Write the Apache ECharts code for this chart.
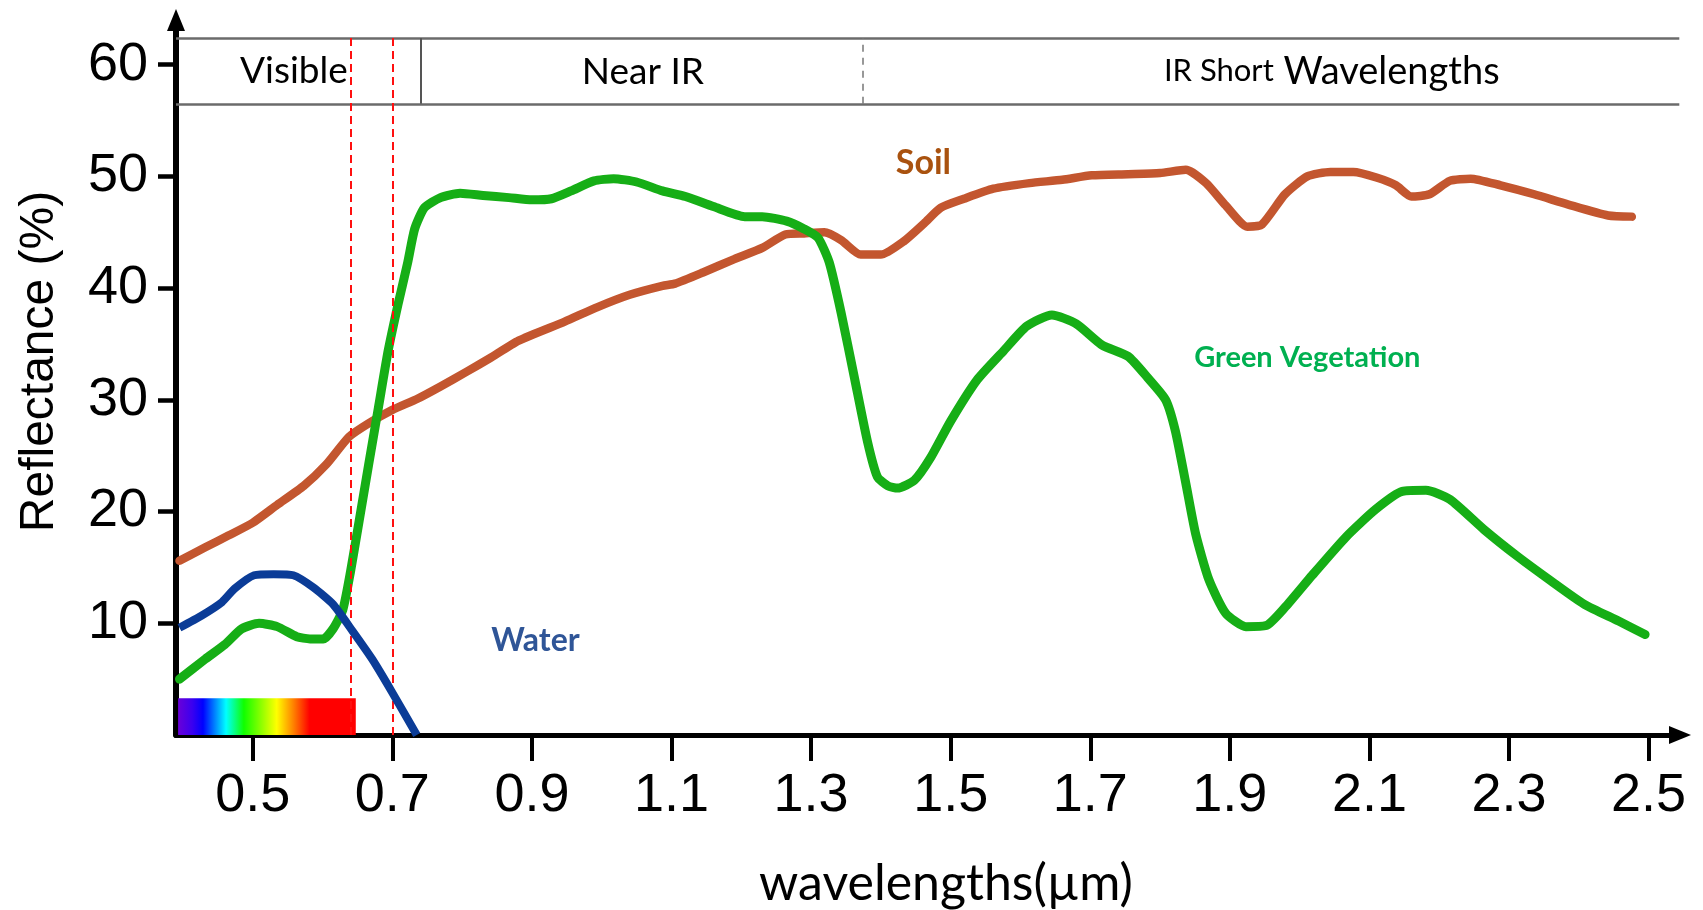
<!DOCTYPE html>
<html>
<head>
<meta charset="utf-8">
<script src="https://cdn.jsdelivr.net/npm/echarts@6/dist/echarts.min.js"></script>
<style>
html,body{margin:0;padding:0;background:#fff;}
#c{width:1703px;height:910px;}
</style>
</head>
<body>
<div id="c"></div>
<script>
// ---- data ----
const xTicks = [0.5, 0.7, 0.9, 1.1, 1.3, 1.5, 1.7, 1.9, 2.1, 2.3, 2.5];
const yTicks = [10, 20, 30, 40, 50, 60];

const soilWl = [0.395,0.432,0.465,0.5,0.535,0.573,0.605,0.638,0.666,0.7,0.736,0.769,0.806,0.839,0.881,0.947,0.994,1.04,1.087,1.105,1.145,1.19,1.23,1.263,1.29,1.319,1.343,1.371,1.40,1.433,1.462,1.486,1.519,1.561,1.613,1.66,1.702,1.754,1.80,1.837,1.866,1.894,1.925,1.946,1.979,2.011,2.044,2.077,2.11,2.138,2.16,2.186,2.215,2.245,2.288,2.336,2.384,2.442,2.476];
const soilVal = [15.6,16.8,17.85,19.0,20.6,22.3,24.2,26.7,27.9,29.1,30.1,31.2,32.5,33.7,35.3,37.0,38.3,39.4,40.2,40.4,41.4,42.6,43.6,44.8,44.9,45.0,44.3,43.0,43.0,44.2,45.8,47.2,48.0,48.9,49.4,49.7,50.1,50.2,50.3,50.6,49.4,47.4,45.5,45.7,48.4,50.0,50.4,50.4,49.9,49.2,48.2,48.4,49.6,49.8,49.2,48.4,47.5,46.5,46.4];

const vegWl = [0.395,0.432,0.46,0.484,0.509,0.535,0.563,0.582,0.601,0.615,0.629,0.64,0.652,0.666,0.68,0.694,0.708,0.722,0.732,0.746,0.769,0.797,0.83,0.867,0.9,0.928,0.956,0.989,1.017,1.05,1.087,1.12,1.16,1.205,1.23,1.265,1.29,1.31,1.326,1.343,1.362,1.381,1.395,1.41,1.424,1.448,1.471,1.5,1.538,1.576,1.609,1.645,1.68,1.717,1.754,1.782,1.808,1.822,1.837,1.851,1.87,1.894,1.923,1.952,1.98,2.018,2.066,2.109,2.147,2.181,2.215,2.264,2.312,2.36,2.408,2.457,2.495];
const vegVal = [5.0,6.8,8.1,9.5,10.0,9.7,8.8,8.6,8.6,9.5,11.2,14.6,19.0,24.2,29.3,34.4,38.5,42.3,45.3,47.2,48.1,48.5,48.3,48.1,47.9,48.0,48.7,49.6,49.8,49.5,48.7,48.2,47.3,46.4,46.4,46.0,45.3,44.5,42.3,37.8,32.0,26.2,23.1,22.3,22.1,22.8,24.8,28.1,31.8,34.4,36.6,37.6,36.8,34.9,33.9,32.0,30.0,27.2,22.5,18.0,13.9,10.9,9.7,9.8,11.5,14.3,17.7,20.2,21.8,21.9,21.1,18.4,16.0,13.8,11.7,10.2,9.0];

const waterWl = [0.395,0.427,0.456,0.474,0.502,0.53,0.558,0.587,0.615,0.643,0.671,0.699,0.735];
const waterVal = [9.6,10.7,11.9,13.1,14.3,14.4,14.3,13.2,11.7,9.3,6.8,3.9,0];

const regionNames = ['Visible', 'Near IR', 'IR Short Wavelengths'];
const regionEdges = [0.39, 0.741, 1.374, 2.544];   // wavelength limits of the header cells
const visibleLimits = [0.64, 0.70];                // red dashed lines
const headerRange = [56.5, 62.4];                  // header band (reflectance units)
const spectrumRange = [0.393, 0.6476, 3.3];        // rainbow bar: x0, x1, height
const seriesNames = ['Soil', 'Green Vegetation', 'Water'];

// ---- styles ----
const tickFont = '"Liberation Sans Narrow","Liberation Sans",Arial,sans-serif';
const calibriLike = 'Lato, "Open Sans", sans-serif';
const colors = { soil: '#C3562F', veg: '#16AE16', water: '#0B3C97' };

const pairs = (xs, ys) => xs.map((x, i) => [x, ys[i]]);

const chart = echarts.init(document.getElementById('c'), null, { renderer: 'canvas', width: 1703, height: 910 });

const bandLine = { color: '#6b6b6b', width: 2.5, type: 'solid' };
const bandLines = [
  [{ coord: [regionEdges[0], headerRange[1]], lineStyle: bandLine }, { coord: [regionEdges[3], headerRange[1]] }],
  [{ coord: [regionEdges[0], headerRange[0]], lineStyle: bandLine }, { coord: [regionEdges[3], headerRange[0]] }],
  [{ coord: [regionEdges[1], headerRange[0]], lineStyle: { color: '#555', width: 2, type: 'solid' } }, { coord: [regionEdges[1], headerRange[1]] }],
  [{ coord: [regionEdges[2], headerRange[0]], lineStyle: { color: '#777', width: 1.5, type: [7, 6] } }, { coord: [regionEdges[2], headerRange[1]] }]
];
const redLines = visibleLimits.map(v => [
  { coord: [v, headerRange[1]], lineStyle: { color: '#ff1010', width: 2, type: [8, 5] } },
  { coord: [v, 0] }
]);

const option = {
  animation: false,
  backgroundColor: '#fff',
  grid: { left: 176, right: 23, top: 20, bottom: 175, containLabel: false, outerBoundsMode: 'none' },
  xAxis: {
    type: 'value', min: 0.39, max: 2.545,
    name: 'wavelengths(µm)', nameLocation: 'middle', nameGap: 124,
    nameTextStyle: { fontFamily: calibriLike, fontSize: 50, color: '#000', padding: [0, 0, 0, 36] },
    axisLine: { show: true, onZero: false, symbol: ['none', 'triangle'], symbolSize: [18, 22], lineStyle: { color: '#000', width: 5 } },
    axisTick: { show: true, customValues: xTicks, length: 26, lineStyle: { color: '#000', width: 4 } },
    axisLabel: { customValues: xTicks, formatter: v => v.toFixed(1), margin: 34, fontFamily: tickFont, fontSize: 54, color: '#000' },
    splitLine: { show: false }
  },
  yAxis: {
    type: 'value', min: 0, max: 64,
    name: 'Reflectance (%)', nameLocation: 'middle', nameGap: 112, nameRotate: 90,
    nameTextStyle: { fontFamily: '"Liberation Sans", Arial, sans-serif', fontSize: 48, color: '#000', padding: [0, 0, 0, 32] },
    axisLine: { show: true, onZero: false, symbol: ['none', 'triangle'], symbolSize: [18, 22], lineStyle: { color: '#000', width: 6 } },
    axisTick: { show: true, customValues: yTicks, length: 18, lineStyle: { color: '#000', width: 4.5 } },
    axisLabel: { customValues: yTicks, margin: 28, fontFamily: tickFont, fontSize: 54, color: '#000' },
    splitLine: { show: false }
  },
  series: [
    {
      name: 'header', type: 'line', data: [], silent: true, z: 1,
      markLine: { silent: true, symbol: ['none', 'none'], label: { show: false }, data: bandLines },
      markArea: {
        silent: true,
        data: [[
          { coord: [spectrumRange[0], 0], itemStyle: { color: { type: 'linear', x: 0, y: 0, x2: 1, y2: 0, colorStops: [
            { offset: 0, color: '#6a00d8' }, { offset: 0.08, color: '#3a00f0' }, { offset: 0.14, color: '#0000ff' },
            { offset: 0.27, color: '#00ffff' }, { offset: 0.37, color: '#10ff00' }, { offset: 0.47, color: '#90ff00' },
            { offset: 0.555, color: '#ffff00' }, { offset: 0.65, color: '#ff8000' }, { offset: 0.74, color: '#ff0000' },
            { offset: 1, color: '#ff0000' } ] } } },
          { coord: [spectrumRange[1], spectrumRange[2]] }
        ]]
      }
    },
    {
      name: seriesNames[0], type: 'line', data: pairs(soilWl, soilVal), showSymbol: false, smooth: 0.2, z: 3,
      lineStyle: { color: colors.soil, width: 8.5, cap: 'round', join: 'round' }
    },
    {
      name: seriesNames[1], type: 'line', data: pairs(vegWl, vegVal), showSymbol: false, smooth: 0.2, z: 4,
      lineStyle: { color: colors.veg, width: 9, cap: 'round', join: 'round' }
    },
    {
      name: seriesNames[2], type: 'line', data: pairs(waterWl, waterVal), showSymbol: false, smooth: 0.2, z: 5,
      lineStyle: { color: colors.water, width: 8, cap: 'butt', join: 'round' }
    },
    {
      name: 'limits', type: 'line', data: [], silent: true, z: 6,
      markLine: { silent: true, symbol: ['none', 'none'], label: { show: false }, data: redLines }
    }
  ]
};
chart.setOption(option);

// ---- text annotations placed in data coordinates ----
const annotations = [
  { text: regionNames[0], at: [0.559, 59.4], font: '37px ' + calibriLike, fill: '#000' },
  { text: regionNames[1], at: [1.059, 59.3], font: '37px ' + calibriLike, fill: '#000' },
  { rich: true, at: [2.046, 59.4], fill: '#000' },
  { text: seriesNames[0], at: [1.461, 51.2], font: 'bold 34px ' + calibriLike, fill: '#A9520F' },
  { text: seriesNames[1], at: [2.011, 33.75], font: 'bold 29px ' + calibriLike, fill: '#00B050' },
  { text: seriesNames[2], at: [0.905, 8.4], font: 'bold 32px ' + calibriLike, fill: '#2F5597' }
];
const graphics = annotations.map(a => {
  const p = chart.convertToPixel({ gridIndex: 0 }, a.at);
  if (a.rich) {
    const parts = regionNames[2].split(' ');
    return {
      type: 'text', x: p[0], y: p[1], silent: true, z: 20,
      style: {
        text: '{s|' + parts[0] + ' ' + parts[1] + '}{w| ' + parts.slice(2).join(' ') + '}',
        textAlign: 'center', textVerticalAlign: 'middle', fill: a.fill,
        rich: {
          s: { fontFamily: calibriLike, fontSize: 31, fill: '#000', color: '#000' },
          w: { fontFamily: calibriLike, fontSize: 38, fill: '#000', color: '#000' }
        }
      }
    };
  }
  return {
    type: 'text', x: p[0], y: p[1], silent: true, z: 20,
    style: { text: a.text, font: a.font, fill: a.fill, textAlign: 'center', textVerticalAlign: 'middle' }
  };
});
chart.setOption({ graphic: graphics });
</script>
</body>
</html>
